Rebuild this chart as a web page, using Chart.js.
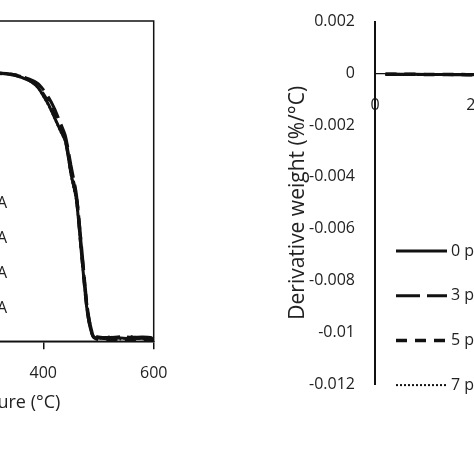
<!DOCTYPE html>
<html>
<head>
<meta charset="utf-8">
<title>TGA / DTG</title>
<script src="https://cdn.jsdelivr.net/npm/chart.js@4.4.1/dist/chart.umd.min.js"></script>
<style>
    html, body { margin: 0; padding: 0; background: #fff; }
    #wrap { position: relative; width: 474px; height: 474px; overflow: hidden; background: #fff; }
    #tgaChart { position: absolute; left: -260px; top: 0; }
    #dtgChart { position: absolute; left: 237px; top: 0; }
</style>
</head>
<body>
<div id="wrap">
    <canvas id="tgaChart" width="474" height="474"></canvas>
    <canvas id="dtgChart" width="560" height="474"></canvas>
</div>
<script>
// series names (same four samples in both panels)
const seriesLabels = ['0 phr PVA', '3 phr PVA', '5 phr PVA', '7 phr PVA'];

// left panel: weight (%) vs temperature (°C)
const tgaTemps = [30, 100, 200, 250, 300, 325, 350, 375, 390, 400, 410, 420, 430, 440, 450, 460, 470, 480, 490, 500, 520, 540, 560, 580, 600];
const tga0 = [100, 100.2, 100.4, 100.5, 100.5, 100.3, 99.6, 97.6, 95.2, 92.0, 88.5, 84.0, 79.5, 75.0, 63.0, 53.0, 31.0, 10.6, 1.8, 1.2, 1.0, 1.2, 1.0, 1.1, 1.0];
const tga3 = [100, 100.2, 100.4, 100.5, 100.5, 100.4, 99.8, 98.2, 96.6, 94.3, 91.2, 87.3, 82.3, 77.0, 66.0, 55.0, 34.0, 12.5, 2.4, 1.6, 1.4, 1.7, 1.5, 1.6, 1.4];
const tga5 = [100, 100.2, 100.4, 100.5, 100.5, 100.3, 99.7, 97.8, 95.6, 92.6, 89.2, 84.8, 80.2, 75.6, 64.0, 54.0, 32.0, 11.2, 2.0, 0.6, 0.5, 0.8, 0.6, 0.7, 0.5];
const tga7 = [100, 100.2, 100.4, 100.5, 100.5, 100.3, 99.6, 97.5, 95.0, 91.7, 88.0, 83.6, 79.0, 74.6, 62.0, 52.0, 30.0, 10.0, 1.6, 0.9, 1.8, 0.7, 1.9, 0.8, 1.7];

// right panel: derivative weight (%/°C) vs temperature (°C)
const dtgTemps = [20, 50, 100, 150, 200, 250, 300, 350, 380, 400, 420, 440, 455, 465, 475, 485, 495, 505, 520, 560, 600];
const dtg0 = [-0.00003, -0.00003, -0.00004, -0.00004, -0.00005, -0.00008, -0.00012, -0.0004, -0.0012, -0.0025, -0.0038, -0.0048, -0.0065, -0.0085, -0.0105, -0.009, -0.005, -0.001, -0.0002, -0.00005, -0.00004];
const dtg3 = [-0.00003, -0.00004, -0.00004, -0.00005, -0.00005, -0.00007, -0.0001, -0.0003, -0.001, -0.0022, -0.0035, -0.0046, -0.006, -0.008, -0.0102, -0.0095, -0.0058, -0.0013, -0.0003, -0.00006, -0.00004];
const dtg5 = [-0.00003, -0.00003, -0.00004, -0.00004, -0.00006, -0.00008, -0.00011, -0.0004, -0.0011, -0.0024, -0.0037, -0.0047, -0.0063, -0.0084, -0.0108, -0.0092, -0.0052, -0.0011, -0.0002, -0.00005, -0.00004];
const dtg7 = [-0.00002, -0.00003, -0.00003, -0.00004, -0.00005, -0.00008, -0.00013, -0.00045, -0.0013, -0.0026, -0.0039, -0.0049, -0.0066, -0.0087, -0.0104, -0.0088, -0.0048, -0.0009, -0.0002, -0.00005, -0.00004];

// tick values
const tempTicks = [0, 200, 400, 600];
const weightTicks = [0, 20, 40, 60, 80, 100, 120];
const dtgTicks = [0.002, 0, -0.002, -0.004, -0.006, -0.008, -0.01, -0.012];

const ink = '#111';
const textInk = '#222';
const lineStyles = [
    { borderDash: [], borderWidth: 3 },
    { borderDash: [24, 7], borderWidth: 3 },
    { borderDash: [11, 8], borderWidth: 3.5 },
    { borderDash: [2, 2], borderWidth: 2 }
];

Chart.defaults.font.family = '"Open Sans", "DejaVu Sans", sans-serif';
Chart.defaults.color = textInk;

function makeDatasets(xs, seriesList) {
    return seriesList.map((ys, i) => ({
        label: seriesLabels[i],
        data: xs.map((x, j) => ({ x: x, y: ys[j] })),
        borderColor: ink,
        borderWidth: lineStyles[i].borderWidth,
        borderDash: lineStyles[i].borderDash,
        pointRadius: 0,
        tension: 0.25,
        fill: false
    }));
}

/**
 * Legend drawn inside the plot: a line sample followed by the label
 */
const lineLegend = {
    id: 'lineLegend',
    afterDraw(chart, args, opts) {
        const ctx = chart.ctx;
        ctx.save();
        ctx.font = '16px "Open Sans"';
        ctx.textBaseline = 'middle';
        ctx.textAlign = 'left';
        chart.data.datasets.forEach((ds, i) => {
            const y = opts.top + i * opts.gap;
            const textW = ctx.measureText(ds.label).width;
            const textX = opts.textEnd !== undefined ? opts.textEnd - textW : opts.textX;
            const lineEnd = textX - 4;
            ctx.beginPath();
            ctx.setLineDash(ds.borderDash || []);
            ctx.lineWidth = ds.borderWidth;
            ctx.strokeStyle = ds.borderColor;
            ctx.moveTo(lineEnd - opts.lineLen, y);
            ctx.lineTo(lineEnd, y);
            ctx.stroke();
            ctx.setLineDash([]);
            ctx.fillStyle = textInk;
            ctx.fillText(ds.label, textX, y);
        });
        ctx.restore();
    }
};

// frame round the left plot area
const plotBox = {
    id: 'plotBox',
    beforeDatasetsDraw(chart, args, opts) {
        if (!opts.display) return;
        const { ctx, chartArea: a } = chart;
        ctx.save();
        ctx.strokeStyle = ink;
        ctx.lineWidth = 1.5;
        ctx.strokeRect(a.left, a.top, a.right - a.left, a.bottom - a.top);
        ctx.restore();
    }
};

const tickFmt = v => String(parseFloat(Number(v).toFixed(3)));

new Chart(document.getElementById('tgaChart').getContext('2d'), {
    type: 'line',
    data: { datasets: makeDatasets(tgaTemps, [tga0, tga3, tga5, tga7]) },
    plugins: [plotBox, lineLegend],
    options: {
        responsive: false,
        animation: false,
        devicePixelRatio: 1,
        layout: { padding: { top: 21, right: 60.3, bottom: 60, left: 0 } },
        plugins: {
            legend: { display: false },
            tooltip: { enabled: false },
            plotBox: { display: true },
            lineLegend: { top: 203, gap: 35, textEnd: 267, lineLen: 54 }
        },
        scales: {
            x: {
                type: 'linear',
                min: 0,
                max: 600,
                afterBuildTicks: s => { s.ticks = tempTicks.map(v => ({ value: v })); },
                ticks: { font: { size: 16 }, padding: 15, color: textInk },
                grid: { display: true, drawOnChartArea: false, drawTicks: true, tickLength: 8, color: ink, lineWidth: 1.5 },
                border: { display: true, color: ink, width: 1.5 },
                title: { display: true, text: 'Temperature (°C)', font: { size: 18 }, color: textInk, padding: 0 },
                afterFit: s => { s.height = 72.7; }
            },
            y: {
                type: 'linear',
                min: 0,
                max: 120,
                afterBuildTicks: s => { s.ticks = weightTicks.map(v => ({ value: v })); },
                ticks: { font: { size: 16 }, color: textInk },
                grid: { display: false },
                border: { display: true, color: ink, width: 1.5 },
                title: { display: true, text: 'Weight (%)', font: { size: 18 }, color: textInk },
                afterFit: s => { s.width = 82.5; }
            }
        }
    }
});

new Chart(document.getElementById('dtgChart').getContext('2d'), {
    type: 'line',
    data: { datasets: makeDatasets(dtgTemps, [dtg0, dtg3, dtg5, dtg7]) },
    plugins: [lineLegend],
    options: {
        responsive: false,
        animation: false,
        devicePixelRatio: 1,
        layout: { padding: { top: 13, right: 107, bottom: 90, left: 48 } },
        plugins: {
            legend: { display: false },
            tooltip: { enabled: false },
            lineLegend: { top: 251, gap: 44.7, textX: 214, lineLen: 51 }
        },
        scales: {
            x: {
                type: 'linear',
                min: 0,
                max: 600,
                position: { y: 0 },
                afterBuildTicks: s => { s.ticks = tempTicks.map(v => ({ value: v })); },
                ticks: { font: { size: 16 }, padding: 14, color: textInk },
                grid: { display: false },
                border: { display: true, color: ink, width: 1.2 }
            },
            y: {
                type: 'linear',
                min: -0.012,
                max: 0.002,
                afterBuildTicks: s => { s.ticks = dtgTicks.map(v => ({ value: v })); },
                ticks: { font: { size: 16 }, padding: 12, color: textInk, callback: tickFmt },
                grid: { display: false },
                border: { display: true, color: ink, width: 2 },
                title: { display: true, text: 'Derivative weight (%/°C)', font: { size: 21 }, color: textInk, padding: 0 },
                afterFit: s => { s.width = 90; }
            }
        }
    }
});
</script>
</body>
</html>
